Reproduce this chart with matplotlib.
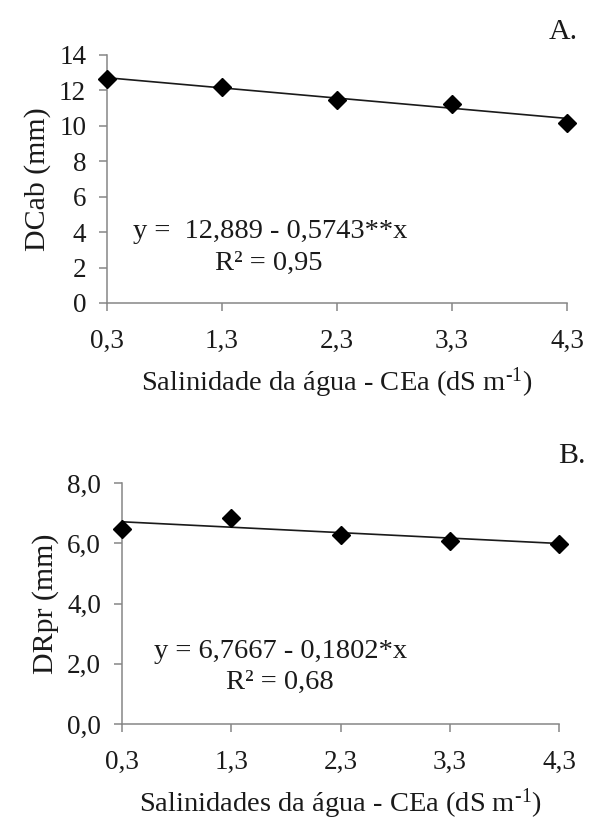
import matplotlib
matplotlib.use("Agg")
import matplotlib.pyplot as plt
import numpy as np

plt.rcParams['font.family'] = ['Liberation Serif', 'DejaVu Serif']
plt.rcParams['mathtext.fontset'] = 'custom'
plt.rcParams['mathtext.rm'] = 'Liberation Serif'

# Data
salinity = [0.3, 1.3, 2.3, 3.3, 4.3]
salinity_labels = ["0,3", "1,3", "2,3", "3,3", "4,3"]
dcab = [12.65, 12.22, 11.47, 11.24, 10.17]
drpr = [6.47, 6.85, 6.27, 6.08, 5.98]
fit_a = (12.889, -0.5743)
fit_b = (6.7667, -0.1802)
yticks_a = [0, 2, 4, 6, 8, 10, 12, 14]
yticks_a_labels = ["0", "2", "4", "6", "8", "10", "12", "14"]
yticks_b = [0, 2, 4, 6, 8]
yticks_b_labels = ["0,0", "2,0", "4,0", "6,0", "8,0"]

W, H = 598, 823
fig = plt.figure(figsize=(W / 100, H / 100), dpi=100)

def px_axes(left, right, top, bottom):
    return fig.add_axes([left / W, 1 - bottom / H, (right - left) / W, (bottom - top) / H])

spine_col = '#868686'
TXT = '#1a1a1a'
FS_TICK = 19.5
FS_LBL = 20.5
FS_Y = 21.5

def style(ax, yt, ytl, ylim):
    ax.set_xlim(salinity[0], salinity[-1])
    ax.set_ylim(*ylim)
    for s in ['top', 'right']:
        ax.spines[s].set_visible(False)
    for s in ['left', 'bottom']:
        ax.spines[s].set_color(spine_col)
        ax.spines[s].set_linewidth(1.1)
    ax.set_xticks(salinity)
    ax.set_xticklabels(salinity_labels)
    ax.set_yticks(yt)
    ax.set_yticklabels(ytl)
    ax.tick_params(axis='both', direction='out', length=6, width=1.1, color=spine_col,
                   labelsize=FS_TICK, colors=TXT)
    ax.tick_params(axis='x', pad=13)
    ax.tick_params(axis='y', pad=9)

def draw(ax, vals, fit):
    xs = np.array([salinity[0], salinity[-1]])
    ax.plot(xs, fit[0] + fit[1] * xs, color=TXT, lw=1.2, clip_on=False, zorder=2)
    ax.plot(salinity, vals, linestyle='none', marker='D', ms=9, color='black',
            clip_on=False, zorder=3)

sup = "$\\mathregular{^{\u20101}}$"

# Panel A
axA = px_axes(107, 567, 55, 303)
style(axA, yticks_a, yticks_a_labels, (0, 14))
draw(axA, dcab, fit_a)
axA.set_ylabel("DCab (mm)", fontsize=FS_Y, color=TXT, labelpad=6)
axA.set_xlabel("Salinidade da água - CEa (dS m" + sup + ")", fontsize=FS_LBL,
               color=TXT, labelpad=8)
fig.text(270 / W, 1 - 231 / H, "y =  12,889 - 0,5743**x", fontsize=FS_LBL, ha='center', va='center',
         color=TXT)
fig.text(269 / W, 1 - 263 / H, "R² = 0,95", fontsize=FS_LBL, ha='center', va='center', color=TXT)
fig.text(563 / W, 1 - 32 / H, "A.", fontsize=FS_LBL + 1, ha='center', va='center', color=TXT)

# Panel B
axB = px_axes(122, 559, 483, 724)
style(axB, yticks_b, yticks_b_labels, (0, 8))
draw(axB, drpr, fit_b)
axB.set_ylabel("DRpr (mm)", fontsize=FS_Y, color=TXT, labelpad=6)
axB.set_xlabel("Salinidades da água - CEa (dS m" + sup + ")", fontsize=FS_LBL,
               color=TXT, labelpad=8)
fig.text(281 / W, 1 - 651 / H, "y = 6,7667 - 0,1802*x", fontsize=FS_LBL, ha='center', va='center',
         color=TXT)
fig.text(280 / W, 1 - 682 / H, "R² = 0,68", fontsize=FS_LBL, ha='center', va='center', color=TXT)
fig.text(572 / W, 1 - 456 / H, "B.", fontsize=FS_LBL + 1, ha='center', va='center', color=TXT)

fig.savefig("out.png", dpi=100)
